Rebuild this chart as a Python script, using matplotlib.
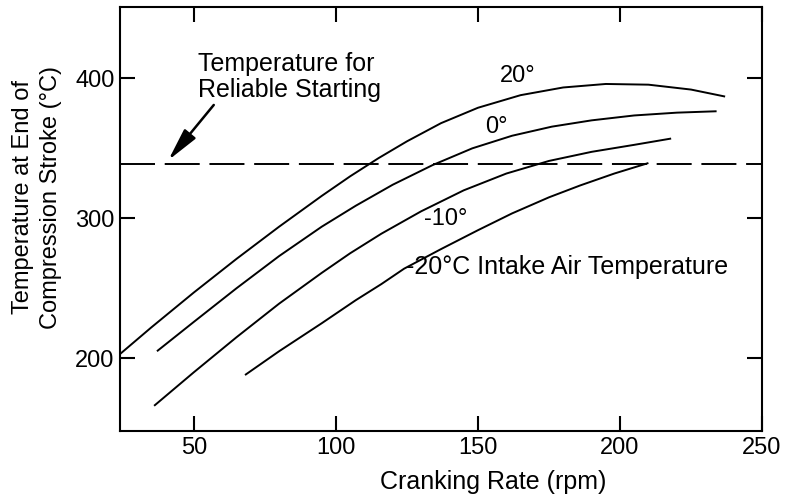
import matplotlib.pyplot as plt

plt.rcParams["font.family"] = ["Liberation Sans", "DejaVu Sans"]

# cranking rate (rpm) vs temperature at end of compression stroke (deg C)
rate_20 = [24, 35, 50, 65, 80, 95, 105, 115, 125, 137, 150, 165, 180, 195, 210, 225, 237]
temp_20 = [203, 222, 247, 271, 294, 316, 330, 343, 355, 368, 379, 388, 393.5, 396, 395.5, 392, 387]

rate_0 = [37, 50, 65, 80, 95, 107, 120, 134, 148, 162, 176, 190, 205, 220, 234]
temp_0 = [205, 226, 250, 273, 294, 309, 324, 338, 350, 359, 365.5, 370, 373.5, 375.5, 376.5]

rate_m10 = [36, 50, 65, 80, 95, 105, 116, 130, 145, 160, 175, 190, 205, 218]
temp_m10 = [166, 190, 215, 239, 261, 275, 289, 305, 320, 332, 341, 347.5, 352.5, 357]

rate_m20 = [68, 80, 95, 107, 116, 124, 137, 150, 162, 175, 186, 198, 210]
temp_m20 = [188, 205, 225, 241.5, 253, 264, 278, 291.5, 303.5, 315, 323.5, 332, 339.5]

reliable_temp = 339

x_ticks = [50, 100, 150, 200, 250]
y_ticks = [200, 300, 400]

fig = plt.figure(figsize=(7.87, 4.97), dpi=100)
ax = fig.add_axes([0.1525, 0.1328, 0.8158, 0.8531])

for xs, ys in [(rate_20, temp_20), (rate_0, temp_0), (rate_m10, temp_m10), (rate_m20, temp_m20)]:
    ax.plot(xs, ys, color="black", lw=1.4, solid_capstyle="butt", solid_joinstyle="round")

ax.axhline(reliable_temp, color="black", lw=1.4, dashes=(18, 5))

ax.set_xlim(24, 250)
ax.set_ylim(148, 451)
ax.set_xticks(x_ticks)
ax.set_yticks(y_ticks)
ax.tick_params(direction="in", top=True, right=True, length=11, width=1.5,
               labelsize=17, pad=4)
for s in ax.spines.values():
    s.set_linewidth(1.5)

ax.text(51.5, 401, "Temperature for\nReliable Starting", fontsize=18,
        ha="left", va="center", linespacing=1.15)
ax.annotate("", xy=(41, 341.5), xytext=(57, 381),
            arrowprops=dict(arrowstyle="-|>,head_length=1.0,head_width=0.22",
                            color="black", lw=1.8, shrinkA=0, shrinkB=0,
                            mutation_scale=20))

ax.text(164, 402, "20°", fontsize=17, ha="center", va="center")
ax.text(156.4, 365, "0°", fontsize=17, ha="center", va="center")
ax.text(138.5, 299.5, "-10°", fontsize=17, ha="center", va="center")
ax.text(124.5, 265, "-20°C Intake Air Temperature", fontsize=18,
        ha="left", va="center")

fig.text(0.627, 0.03, "Cranking Rate (rpm)", fontsize=18, ha="center", va="center")
fig.text(0.047, 0.6036, "Temperature at End of\nCompression Stroke (°C)", fontsize=17,
         rotation=90, ha="center", va="center", multialignment="center",
         linespacing=1.3)

fig.savefig("out.png", dpi=100)
